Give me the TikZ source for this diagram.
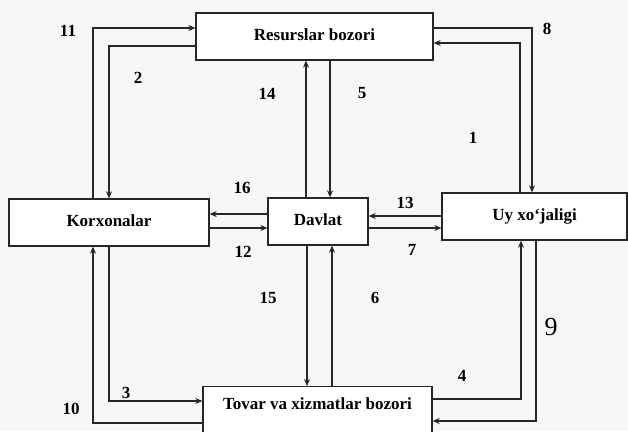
\documentclass[tikz,border=0pt]{standalone}
\usepackage{fontspec}
\setmainfont{Liberation Serif}
\usepackage{tikz}
\usetikzlibrary{arrows.meta}

\begin{document}
\begin{tikzpicture}[x=1pt, y=-1pt,
  box/.style={draw=black!85, line width=1.3pt, fill=white, inner sep=0pt,
    text height=12pt, text depth=4pt, font=\fontsize{17}{19}\selectfont\bfseries},
  flow/.style={draw=black!85, line width=1.4pt, -{Stealth[length=7pt,width=6pt]}},
  num/.style={font=\fontsize{17}{19}\selectfont\bfseries}]

\useasboundingbox[fill=black!3] (0,0) rectangle (628,431);
\clip (0,0) rectangle (628,431);

\node[box, minimum width=237pt, minimum height=47pt] (resurs) at (314.5,36.5) {Resurslar bozori};
\node[box, minimum width=200pt, minimum height=47pt] (korxona) at (109,222.5) {Korxonalar};
\node[box, minimum width=100pt, minimum height=47pt] (davlat) at (318,221.5) {Davlat};
\node[box, minimum width=185pt, minimum height=47pt] (uy) at (534.5,216.5) {Uy xo`jaligi};
\node[box, minimum width=229pt, anchor=north, inner ysep=11pt, text depth=40pt] (tovar) at (317.5,386) {Tovar va xizmatlar bozori};

% top part
\draw[flow] (korxona.north -| 93,0) |- (resurs.west |- 0,28);
\draw[flow] (resurs.west |- 0,46) -| (korxona.north -| 109,0);
\draw[flow] (davlat.north -| 306,0) -- (resurs.south -| 306,0);
\draw[flow] (resurs.south -| 330,0) -- (davlat.north -| 330,0);
\draw[flow] (resurs.east |- 0,28) -| (uy.north -| 532,0);
\draw[flow] (uy.north -| 520,0) |- (resurs.east |- 0,43);

% middle part
\draw[flow] (davlat.west |- 0,214) -- (korxona.east |- 0,214);
\draw[flow] (korxona.east |- 0,228) -- (davlat.west |- 0,228);
\draw[flow] (uy.west |- 0,216) -- (davlat.east |- 0,216);
\draw[flow] (davlat.east |- 0,228) -- (uy.west |- 0,228);

% bottom part
\draw[flow] (davlat.south -| 307,0) -- (tovar.north -| 307,0);
\draw[flow] (tovar.north -| 332,0) -- (davlat.south -| 332,0);
\draw[flow] (tovar.east |- 0,399) -| (uy.south -| 521,0);
\draw[flow] (uy.south -| 536,0) |- (tovar.east |- 0,421);
\draw[flow] (korxona.south -| 109,0) |- (tovar.west |- 0,401);
\draw[flow] (tovar.west |- 0,423) -| (korxona.south -| 93,0);

\node[num] (n1) at (473,138) {1};
\node[num] (n2) at (138,78) {2};
\node[num] (n3) at (126,393) {3};
\node[num] (n4) at (462,376) {4};
\node[num] (n5) at (362,93) {5};
\node[num] (n6) at (375,298) {6};
\node[num] (n7) at (412,250) {7};
\node[num] (n8) at (547,29) {8};
\node[font=\fontsize{26}{28}\selectfont] (n9) at (551,327) {9};
\node[num] (n10) at (71,409) {10};
\node[num] (n11) at (68,31) {11};
\node[num] (n12) at (243,252) {12};
\node[num] (n13) at (405,203) {13};
\node[num] (n14) at (267,94) {14};
\node[num] (n15) at (268,298) {15};
\node[num] (n16) at (242,188) {16};

\end{tikzpicture}
\end{document}
